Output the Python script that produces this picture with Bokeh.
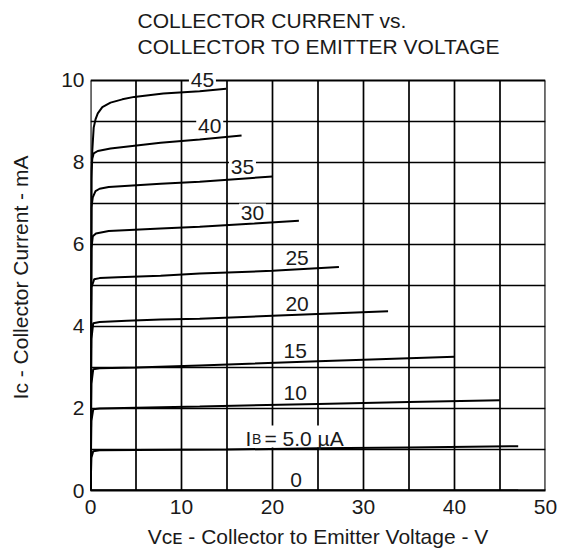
from bokeh.plotting import figure
from bokeh.models import Range1d, FixedTicker, Label, Title
from bokeh.embed import file_html
from bokeh.resources import INLINE

# ---- data ----
vce_0 = [0, 47]
ic_0 = [0, 0]
vce_5 = [0, 0.1, 0.3, 1, 5, 15, 25, 35, 47]
ic_5 = [0, 0.8, 0.96, 0.98, 0.99, 1.0, 1.03, 1.05, 1.08]
vce_10 = [0, 0.1, 0.3, 1, 5, 12, 25, 35, 45]
ic_10 = [0, 1.7, 1.98, 2.0, 2.02, 2.05, 2.11, 2.16, 2.2]
vce_15 = [0, 0.1, 0.3, 1, 5, 12, 25, 40]
ic_15 = [0, 2.6, 2.96, 2.98, 3.0, 3.05, 3.15, 3.26]
vce_20 = [0, 0.1, 0.3, 1, 4, 7.7, 12, 20, 32.7]
ic_20 = [0, 3.7, 4.08, 4.11, 4.14, 4.17, 4.19, 4.26, 4.37]
vce_25 = [0, 0.1, 0.4, 1, 3, 7.7, 12, 20, 27.3]
ic_25 = [0, 4.95, 5.15, 5.18, 5.2, 5.24, 5.29, 5.36, 5.45]
vce_30 = [0, 0.1, 0.25, 0.6, 2, 7.7, 12, 18, 22.9]
ic_30 = [0, 5.9, 6.2, 6.27, 6.33, 6.39, 6.43, 6.51, 6.58]
vce_35 = [0, 0.1, 0.25, 0.55, 1, 2, 7.7, 12, 20]
ic_35 = [0, 6.9, 7.15, 7.3, 7.36, 7.4, 7.48, 7.53, 7.66]
vce_40 = [0, 0.1, 0.2, 0.35, 0.8, 2.2, 7.7, 12, 16.6]
ic_40 = [0, 7.8, 8.1, 8.22, 8.28, 8.34, 8.48, 8.56, 8.66]
vce_45 = [0, 0.1, 0.2, 0.35, 0.55, 0.8, 1.3, 2.2, 3.5, 4.8, 8, 12, 14.9]
ic_45 = [0, 7.6, 8.3, 8.85, 9.05, 9.2, 9.35, 9.46, 9.54, 9.6, 9.68, 9.74, 9.8]

curve_label_text = ["45", "40", "35", "30", "25", "20", "15", "10", "0"]
curve_label_x = [12.3, 13.1, 16.7, 17.8, 22.7, 22.7, 22.5, 22.5, 22.6]
curve_label_y = [10.01, 8.88, 7.88, 6.78, 5.66, 4.56, 3.41, 2.37, 0.26]

ib_label_parts = ["I", "B", "= 5.0 µA"]
ib_label_x = 17.03
ib_label_y = 1.268

x_ticks = [0, 10, 20, 30, 40, 50]
y_ticks = [0, 2, 4, 6, 8, 10]
x_grid = [0, 5, 10, 15, 20, 25, 30, 35, 40, 45, 50]
y_grid = [0, 1, 2, 3, 4, 5, 6, 7, 8, 9, 10]

title_text = "COLLECTOR CURRENT vs.\nCOLLECTOR TO EMITTER VOLTAGE"
x_label = "Vᴄᴇ - Collector to Emitter Voltage - V"
y_label = "Iᴄ - Collector Current - mA"

FONT = "Liberation Sans"
FS = "21px"
TC = "#1a1a1a"

x_lo, x_hi = x_grid[0], x_grid[-1]
y_lo, y_hi = y_grid[0], y_grid[-1]
PX_PER_V = 9.1
PX_PER_MA = 41.0

p = figure(width=569, height=557, output_backend="svg", toolbar_location=None,
           x_range=Range1d(x_lo, x_hi), y_range=Range1d(y_lo, 10.39),
           min_border_left=90, min_border_right=24, min_border_top=64, min_border_bottom=67)
p.title = None
p.background_fill_color = "white"
p.border_fill_color = "white"
p.outline_line_color = None
p.xgrid.grid_line_color = None
p.ygrid.grid_line_color = None

p.add_layout(Title(text=title_text, align="left", offset=47, standoff=13, text_line_height=1.14,
                   text_font=FONT, text_font_size=FS, text_font_style="normal", text_color=TC), "above")

p.xaxis.ticker = FixedTicker(ticks=x_ticks)
p.yaxis.ticker = FixedTicker(ticks=y_ticks)
for ax in (p.xaxis, p.yaxis):
    ax.major_tick_line_color = None
    ax.minor_tick_line_color = None
    ax.major_tick_out = 0
    ax.major_tick_in = 0
    ax.minor_tick_out = 0
    ax.minor_tick_in = 0
    ax.axis_line_color = "black"
    ax.axis_line_width = 2
    ax.major_label_text_font = FONT
    ax.major_label_text_font_size = FS
    ax.major_label_text_color = TC
    ax.axis_label_text_font = FONT
    ax.axis_label_text_font_size = FS
    ax.axis_label_text_font_style = "normal"
    ax.axis_label_text_color = TC
p.yaxis.axis_line_color = None
p.xaxis.major_label_standoff = 9
p.yaxis.major_label_standoff = 6
p.xaxis.axis_label = x_label
p.yaxis.axis_label = y_label
p.xaxis.axis_label_standoff = 8
p.yaxis.axis_label_standoff = 26

# grid (every 5 V and every 1 mA) and box
inner_x = x_grid[1:-1]
inner_y = y_grid[1:-1]
p.segment(x0=inner_x, y0=[y_lo] * len(inner_x), x1=inner_x, y1=[y_hi] * len(inner_x),
          line_color="black", line_width=1.7)
p.segment(x0=[x_lo] * len(inner_y), y0=inner_y, x1=[x_hi] * len(inner_y), y1=inner_y,
          line_color="black", line_width=1.7)
p.segment(x0=[x_lo, x_hi, x_lo, x_lo], y0=[y_lo, y_lo, y_hi, y_lo],
          x1=[x_lo, x_hi, x_hi, x_hi], y1=[y_hi, y_hi, y_hi, y_lo],
          line_color="black", line_width=2.2)

# white knock-outs behind the curve labels
p.rect(x=curve_label_x, y=curve_label_y, width=27, height=18, width_units="screen",
       height_units="screen", fill_color="white", line_color=None)
p.rect(x=[ib_label_x + 50 / PX_PER_V], y=[ib_label_y + 2 / PX_PER_MA], width=104, height=22,
       width_units="screen", height_units="screen", fill_color="white", line_color=None)

curves = [(vce_0, ic_0), (vce_5, ic_5), (vce_10, ic_10), (vce_15, ic_15), (vce_20, ic_20),
          (vce_25, ic_25), (vce_30, ic_30), (vce_35, ic_35), (vce_40, ic_40), (vce_45, ic_45)]
for xs, ys in curves:
    p.line(xs, ys, line_color="black", line_width=2)

for t, x, y in zip(curve_label_text, curve_label_x, curve_label_y):
    p.add_layout(Label(x=x, y=y, text=t, text_align="center", text_baseline="middle",
                       text_font=FONT, text_font_size=FS, text_color=TC))

# I_B = 5.0 uA label
p.add_layout(Label(x=ib_label_x, y=ib_label_y, text=ib_label_parts[0], text_baseline="alphabetic",
                   text_font=FONT, text_font_size=FS, text_color=TC))
p.add_layout(Label(x=ib_label_x, y=ib_label_y, x_offset=6.5, text=ib_label_parts[1],
                   text_baseline="alphabetic", text_font=FONT, text_font_size="14px", text_color=TC))
p.add_layout(Label(x=ib_label_x, y=ib_label_y, x_offset=19, text=ib_label_parts[2],
                   text_baseline="alphabetic", text_font=FONT, text_font_size=FS, text_color=TC))

open("out.html", "w").write(file_html(p, INLINE))
